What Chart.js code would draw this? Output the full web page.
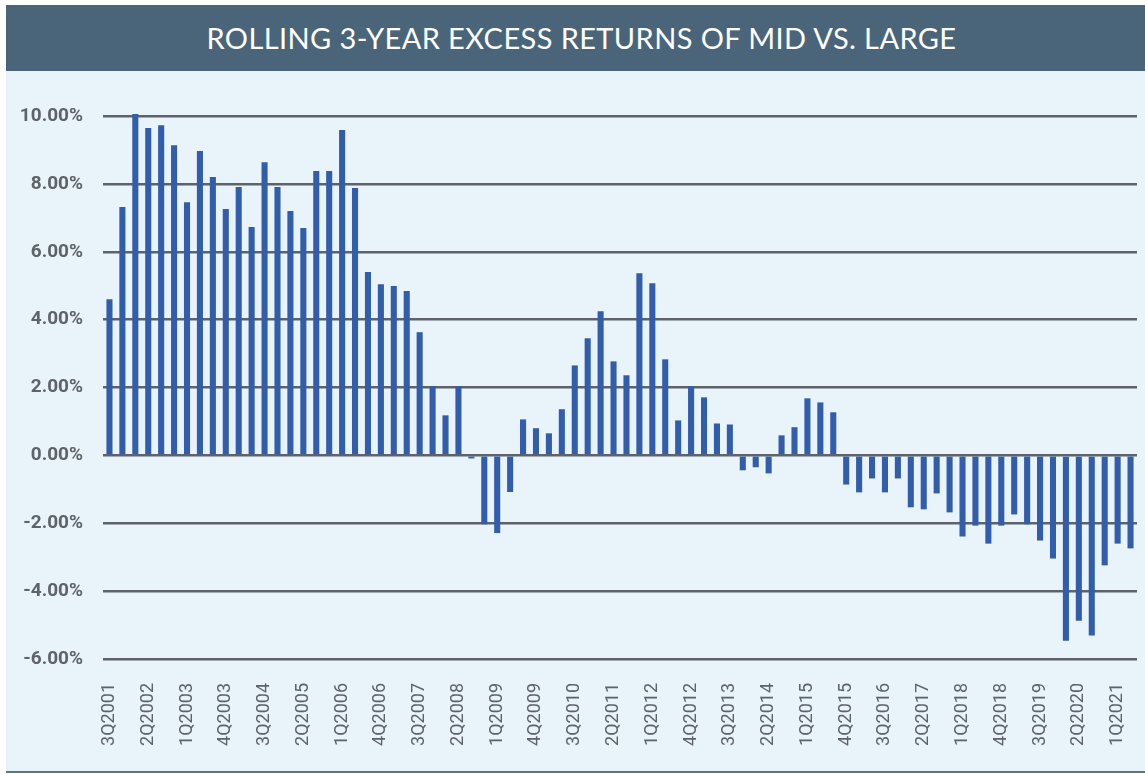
<!DOCTYPE html>
<html>
<head>
<meta charset="utf-8">
<script src="https://cdn.jsdelivr.net/npm/chart.js@4/dist/chart.umd.min.js"></script>
<style>
  html, body { margin: 0; padding: 0; background: #ffffff; }
  #page { position: relative; width: 1145px; height: 774px; overflow: hidden; background: #ffffff; }
  #titlebar { position: absolute; left: 6px; top: 5px; width: 1127px; padding-left: 12px; height: 66px; background: #4a6579;
    color: #ffffff; font-family: Lato, "Open Sans", sans-serif; font-size: 29px; line-height: 66px; text-align: center; letter-spacing: 0.4px; }
  #panel { position: absolute; left: 6px; top: 71px; width: 1139px; height: 700px; background: #e8f3fa; }
  #bottomline { position: absolute; left: 6px; top: 771px; width: 1139px; height: 2px; background: #5d7486; }
  #wrap { position: absolute; left: 0; top: 0; width: 1139px; height: 700px; }
</style>
</head>
<body>
<div id="page">
  <div id="titlebar">ROLLING 3-YEAR EXCESS RETURNS OF MID VS. LARGE</div>
  <div id="panel"><div id="wrap"><canvas id="c"></canvas></div></div>
  <div id="bottomline"></div>
</div>
<script>
// Quarterly categories 3Q2001 .. 2Q2021
const categories = [
  "3Q2001","4Q2001","1Q2002","2Q2002","3Q2002","4Q2002","1Q2003","2Q2003","3Q2003","4Q2003",
  "1Q2004","2Q2004","3Q2004","4Q2004","1Q2005","2Q2005","3Q2005","4Q2005","1Q2006","2Q2006",
  "3Q2006","4Q2006","1Q2007","2Q2007","3Q2007","4Q2007","1Q2008","2Q2008","3Q2008","4Q2008",
  "1Q2009","2Q2009","3Q2009","4Q2009","1Q2010","2Q2010","3Q2010","4Q2010","1Q2011","2Q2011",
  "3Q2011","4Q2011","1Q2012","2Q2012","3Q2012","4Q2012","1Q2013","2Q2013","3Q2013","4Q2013",
  "1Q2014","2Q2014","3Q2014","4Q2014","1Q2015","2Q2015","3Q2015","4Q2015","1Q2016","2Q2016",
  "3Q2016","4Q2016","1Q2017","2Q2017","3Q2017","4Q2017","1Q2018","2Q2018","3Q2018","4Q2018",
  "1Q2019","2Q2019","3Q2019","4Q2019","1Q2020","2Q2020","3Q2020","4Q2020","1Q2021","2Q2021"
];

// Rolling 3-year excess return of mid vs. large (%)
const excessReturns = [
  4.60, 7.32, 10.06, 9.65, 9.73, 9.14, 7.46, 8.97, 8.20, 7.26,
  7.91, 6.73, 8.64, 7.91, 7.20, 6.70, 8.38, 8.38, 9.59, 7.88,
  5.40, 5.04, 4.99, 4.84, 3.63, 2.04, 1.18, 2.04, -0.09, -2.03,
  -2.29, -1.08, 1.06, 0.80, 0.65, 1.36, 2.65, 3.45, 4.25, 2.77,
  2.36, 5.37, 5.07, 2.83, 1.03, 2.04, 1.71, 0.94, 0.91, -0.44,
  -0.35, -0.53, 0.59, 0.83, 1.68, 1.56, 1.27, -0.86, -1.09, -0.68,
  -1.09, -0.68, -1.53, -1.59, -1.12, -1.68, -2.39, -2.07, -2.60, -2.07,
  -1.74, -2.03, -2.51, -3.04, -5.46, -4.87, -5.31, -3.24, -2.60, -2.74
];

// Y tick values (%)
const yTicks = [-6, -4, -2, 0, 2, 4, 6, 8, 10];
const labelEvery = 3;

const fam = 'Roboto, "DejaVu Sans", sans-serif';

new Chart(document.getElementById('c'), {
  type: 'bar',
  data: {
    labels: categories,
    datasets: [{
      data: excessReturns,
      backgroundColor: '#325dab',
      borderWidth: 0,
      barPercentage: 0.47,
      categoryPercentage: 1.0,
      clip: false
    }]
  },
  options: {
    responsive: true,
    maintainAspectRatio: false,
    animation: false,
    layout: { padding: { left: 0, right: 8, top: 45, bottom: 0 } },
    plugins: { legend: { display: false }, tooltip: { enabled: false }, title: { display: false } },
    scales: {
      x: {
        offset: true,
        grid: { display: false, drawTicks: false },
        border: { display: false },
        afterFit: (s) => { s.height = 112; s.paddingLeft = 0; s.paddingRight = 0; },
        ticks: {
          autoSkip: false,
          maxRotation: 90,
          minRotation: 90,
          padding: 24,
          color: '#5f6369',
          font: { family: fam, size: 18 },
          callback: function (v, i) { return i % labelEvery === 0 ? categories[i] : ''; }
        }
      },
      y: {
        min: yTicks[0],
        max: yTicks[yTicks.length - 1],
        afterFit: (s) => { s.width = 97; s.paddingTop = 0; s.paddingBottom = 0; },
        afterBuildTicks: (s) => { s.ticks = yTicks.map(v => ({ value: v })); },
        grid: { color: '#5f6368', lineWidth: 2.5, drawTicks: false },
        border: { display: false },
        ticks: {
          padding: 20,
          color: '#5f6369',
          font: { family: fam, size: 19, weight: 'bold' },
          callback: (v) => v.toFixed(2) + '%'
        }
      }
    }
  }
});
</script>
</body>
</html>
